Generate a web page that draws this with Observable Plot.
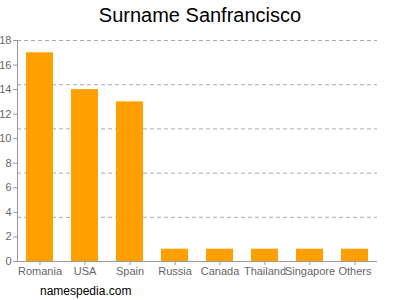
<!DOCTYPE html>
<html>
<head>
<meta charset="utf-8">
<script src="https://cdn.jsdelivr.net/npm/d3@7"></script>
<script src="https://cdn.jsdelivr.net/npm/@observablehq/plot@0.6"></script>
<style>
  html, body { margin: 0; padding: 0; background: #fff; width: 400px; height: 300px; overflow: hidden; font-family: "Liberation Sans", Arial, sans-serif; }
  #title { height: 28px; line-height: 30px; text-align: center; font-size: 20px; color: #000; }
  #chart svg { display: block; }
  #footer { position: absolute; left: 40px; top: 284px; font-size: 12px; color: #000; }
</style>
</head>
<body>
<div id="title">Surname Sanfrancisco</div>
<div id="chart"></div>
<div id="footer">namespedia.com</div>
<script>
const countries = ["Romania", "USA", "Spain", "Russia", "Canada", "Thailand", "Singapore", "Others"];
const counts = [17, 14, 13, 1, 1, 1, 1, 1];
const yTicks = [0, 2, 4, 6, 8, 10, 12, 14, 16, 18];
const gridLines = [3.6, 7.2, 10.8, 14.4, 18];

const data = countries.map((c, i) => ({country: c, count: counts[i]}));

const chart = Plot.plot({
  width: 400,
  height: 260,
  marginTop: 12,
  marginBottom: 27,
  marginLeft: 17,
  marginRight: 23,
  style: {fontFamily: "'Liberation Sans', Arial, sans-serif", fontSize: "11px", color: "#666"},
  x: {domain: countries, paddingInner: 0.4, paddingOuter: 0.2, label: null},
  y: {domain: [0, 18], label: null},
  marks: [
    Plot.ruleY(gridLines, {stroke: "#aaa", strokeDasharray: "4,3"}),
    Plot.barY(data, {x: "country", y: "count", fill: "#ffa000"}),
    Plot.axisY({ticks: yTicks, tickSize: 4, tickPadding: 2, stroke: "#999", fill: "#666", label: null}),
    Plot.axisX({tickSize: 4, tickPadding: 2, stroke: "#999", fill: "#666", label: null}),
    Plot.ruleY([0], {stroke: "#999"}),
    Plot.frame({anchor: "left", stroke: "#999"})
  ]
});
document.getElementById("chart").appendChild(chart);
</script>
</body>
</html>
